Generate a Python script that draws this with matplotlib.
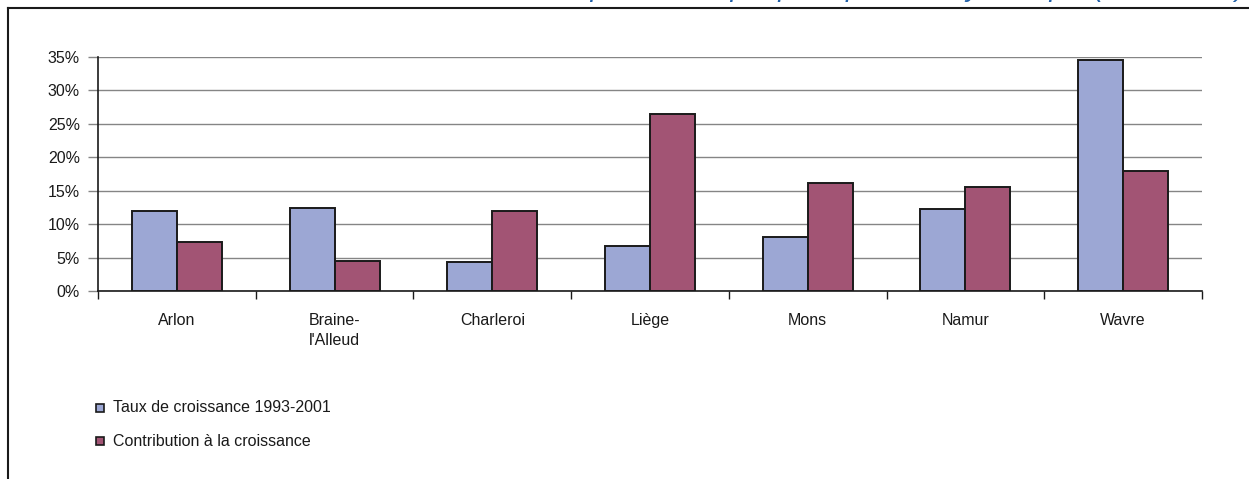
import matplotlib
matplotlib.use("Agg")
import matplotlib.pyplot as plt
import numpy as np
from matplotlib.lines import Line2D
from matplotlib.patches import Rectangle

plt.rcParams['font.family'] = ['Liberation Sans', 'DejaVu Sans']

categories = ["Arlon", "Braine-\nl'Alleud", "Charleroi", "Liège", "Mons", "Namur", "Wavre"]
taux = [11.9, 12.4, 4.3, 6.8, 8.1, 12.3, 34.5]
contribution = [7.4, 4.5, 12.0, 26.4, 16.1, 15.5, 17.9]
series_names = ["Taux de croissance 1993-2001", "Contribution à la croissance"]
yticks = [0, 5, 10, 15, 20, 25, 30, 35]
ytick_labels = ["0%", "5%", "10%", "15%", "20%", "25%", "30%", "35%"]

col_blue = "#9CA7D4"
col_red = "#A25474"
FS = 11.5

fig = plt.figure(figsize=(12.49, 4.79), dpi=100)
ax = fig.add_axes([98/1249, 1-291/479, (1202-98)/1249, (291-57)/479])

x = np.arange(len(categories))
w = 0.285
ax.bar(x - w/2, taux, width=w, color=col_blue, edgecolor="#1a1a1a", linewidth=1.4, zorder=3)
ax.bar(x + w/2, contribution, width=w, color=col_red, edgecolor="#1a1a1a", linewidth=1.4, zorder=3)

ax.set_xlim(-0.5, len(categories) - 0.5)
ax.set_ylim(0, 35)
ax.set_yticks(yticks)
ax.set_yticklabels(ytick_labels, fontsize=FS, color="#1a1a1a")
ax.yaxis.grid(True, color="#858585", linewidth=1.0, zorder=0)
ax.set_axisbelow(True)

ax.set_xticks(np.arange(-0.5, len(categories), 1.0))
ax.set_xticklabels([])
ax.set_xticks(x, minor=True)
ax.set_xticklabels(categories, minor=True, fontsize=FS, color="#1a1a1a", va="top",
                   multialignment="left", linespacing=1.4)
ax.tick_params(axis="x", which="minor", length=0, pad=16)
ax.tick_params(axis="x", which="major", length=6, direction="out", color="#1a1a1a", width=1)
ax.tick_params(axis="y", length=7, direction="out", color="#858585", width=1, pad=6)

for s in ["top", "right"]:
    ax.spines[s].set_visible(False)
ax.spines["left"].set_color("#1a1a1a")
ax.spines["left"].set_linewidth(1.2)
ax.spines["bottom"].set_color("#1a1a1a")
ax.spines["bottom"].set_linewidth(1.2)

# Legend
for i, (name, col) in enumerate(zip(series_names, [col_blue, col_red])):
    yc = 1 - (408 + i*33)/479
    fig.patches.append(Rectangle((96/1249, yc - 4/479), 8/1249, 8/479, transform=fig.transFigure,
                                 facecolor=col, edgecolor="#1a1a1a", linewidth=1.2))
    fig.text(113/1249, yc, name, fontsize=FS, va="center", ha="left", color="#1a1a1a")

# Frame lines
fig.lines.append(Line2D([8/1249, 1], [1-8/479, 1-8/479], transform=fig.transFigure, color="#1a1a1a", linewidth=1.5))
fig.lines.append(Line2D([8/1249, 8/1249], [0, 1-8/479], transform=fig.transFigure, color="#1a1a1a", linewidth=1.5))

# Cut-off title at top (only descenders visible in the reference)
fig.text(1245/1249, 1 + 4/479, "Emploi salarié par pôle, poids et dynamique (1993-2001)",
         fontsize=20, style="italic", color="#1F5FA8", ha="right", va="baseline")

fig.savefig("out.png", dpi=100)
